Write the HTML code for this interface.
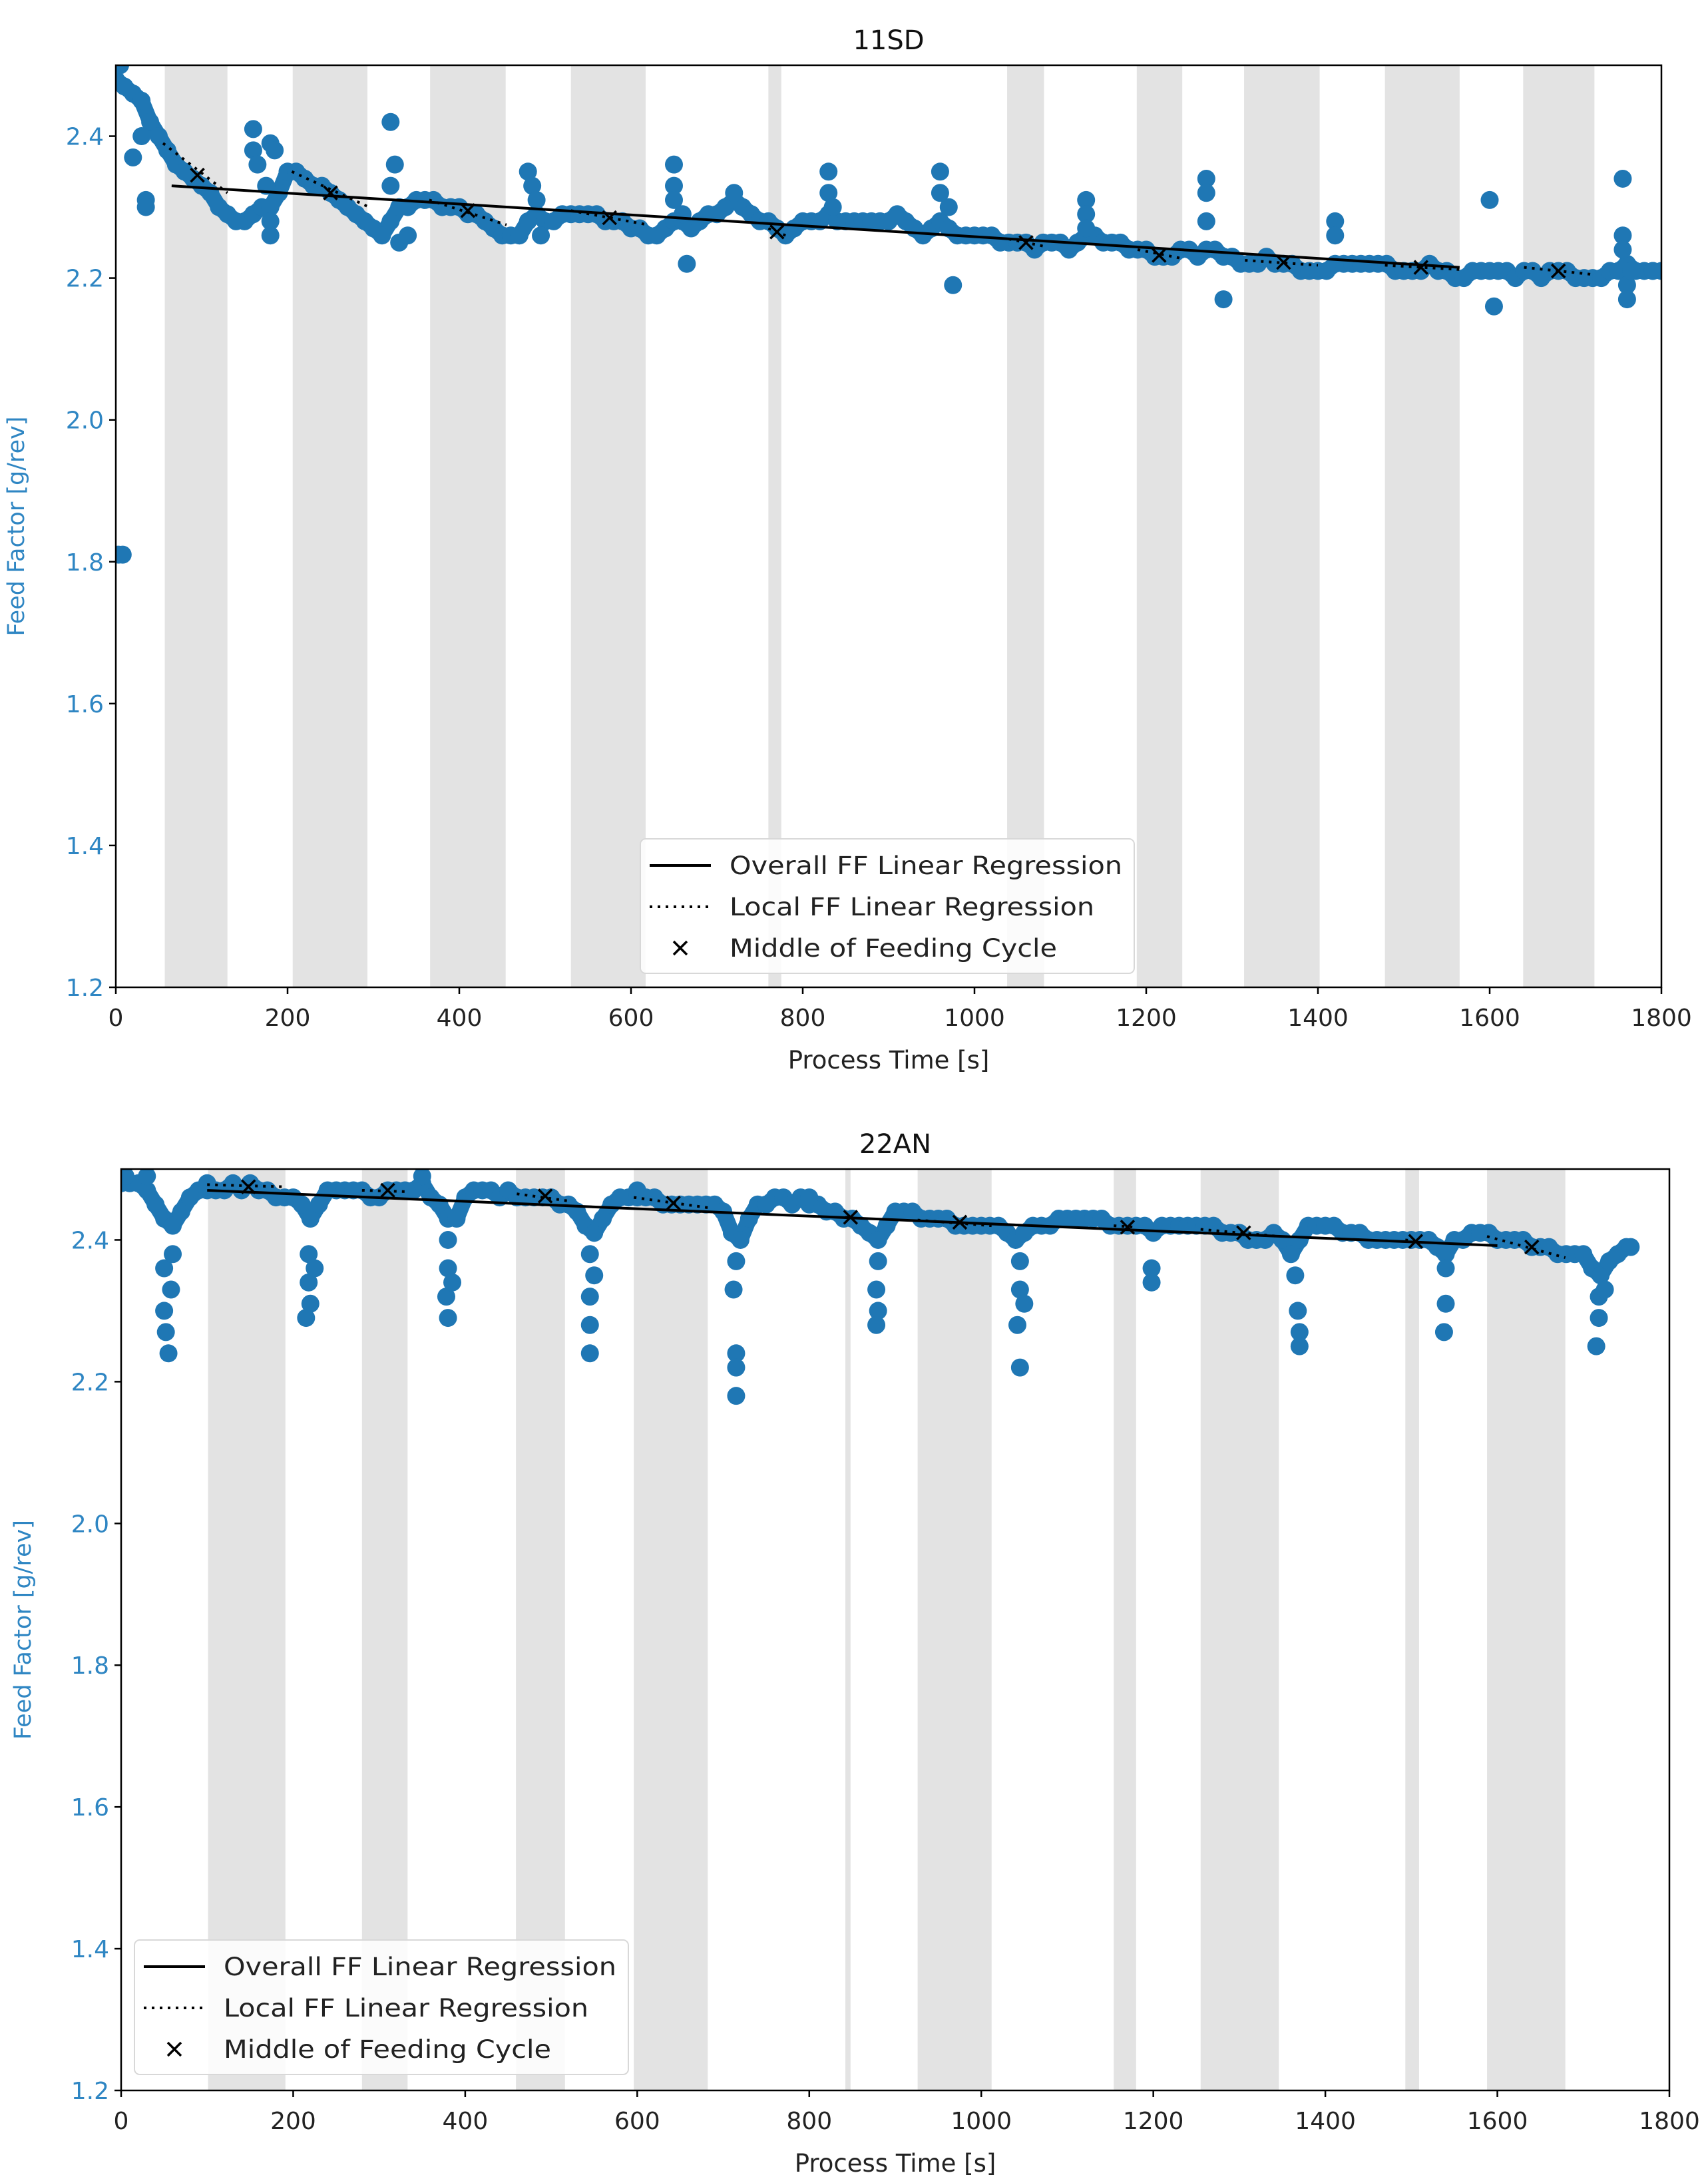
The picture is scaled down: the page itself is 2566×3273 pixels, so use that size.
<!DOCTYPE html>
<html><head><meta charset="utf-8"><style>
html,body{margin:0;padding:0;background:#fff;}
svg{display:block;font-family:"DejaVu Sans","Liberation Sans",sans-serif;}
</style></head><body>
<svg id="fig" width="2566" height="3273" viewBox="0 0 2566 3273" xmlns="http://www.w3.org/2000/svg"></svg>
<script>
// ---------- data: top chart (11SD) ----------
const topBase = [2.48,2.47,2.46,2.45,2.42,2.40,2.38,2.36,2.35,2.34,2.33,2.32,2.30,2.29,2.28,2.28,2.29,2.30,2.30,2.32,
2.35,2.35,2.34,2.33,2.33,2.32,2.31,2.30,2.29,2.28,2.27,2.26,2.28,2.30,2.30,2.31,2.31,2.31,2.30,2.30,
2.30,2.29,2.29,2.28,2.27,2.26,2.26,2.26,2.28,2.29,2.28,2.28,2.29,2.29,2.29,2.29,2.29,2.28,2.28,2.28,
2.27,2.27,2.26,2.26,2.27,2.28,2.28,2.27,2.28,2.29,2.29,2.30,2.31,2.30,2.29,2.28,2.28,2.27,2.26,2.27,
2.28,2.28,2.28,2.29,2.28,2.28,2.28,2.28,2.28,2.28,2.28,2.29,2.28,2.27,2.26,2.27,2.28,2.27,2.26,2.26,
2.26,2.26,2.26,2.25,2.25,2.25,2.25,2.24,2.25,2.25,2.25,2.24,2.25,2.26,2.26,2.25,2.25,2.25,2.24,2.24,
2.24,2.23,2.23,2.23,2.24,2.24,2.23,2.24,2.24,2.23,2.23,2.22,2.22,2.22,2.23,2.22,2.22,2.22,2.21,2.21,
2.21,2.21,2.22,2.22,2.22,2.22,2.22,2.22,2.22,2.21,2.21,2.21,2.21,2.22,2.21,2.21,2.20,2.20,2.21,2.21,
2.21,2.21,2.21,2.20,2.21,2.21,2.20,2.21,2.21,2.21,2.20,2.20,2.20,2.20,2.21,2.21,2.22,2.21,2.21,2.21,2.21];
const topExtraT = [3,8,5,20,35,35,30,160,160,165,180,185,180,180,175,320,325,320,330,340,480,485,490,495,650,650,650,665,660,720,830,830,835,960,960,970,975,1130,1130,1130,1270,1270,1270,1290,1420,1420,1600,1605,1755,1755,1755,1760,1760,1765,1790];
const topExtraV = [1.81,1.81,2.50,2.37,2.31,2.30,2.40,2.41,2.38,2.36,2.39,2.38,2.26,2.28,2.33,2.42,2.36,2.33,2.25,2.26,2.35,2.33,2.31,2.26,2.36,2.33,2.31,2.22,2.29,2.32,2.35,2.32,2.30,2.35,2.32,2.30,2.19,2.31,2.29,2.27,2.34,2.32,2.28,2.17,2.28,2.26,2.31,2.16,2.34,2.26,2.24,2.19,2.17,2.21,2.21];
const topShadeStart = [57,206,366,530,760,1038,1189,1314,1478,1639];
const topShadeEnd   = [130,293,454,617,775,1081,1242,1402,1565,1722];
const topOverall = [65,2.33,1565,2.215];
const topLocal = [[55,2.39,130,2.32],[205,2.35,295,2.30],[365,2.31,455,2.275],[530,2.295,620,2.275],[760,2.27,780,2.26],[1040,2.255,1080,2.245],[1190,2.24,1240,2.228],[1315,2.225,1400,2.218],[1478,2.218,1565,2.212],[1640,2.215,1720,2.205]];
const topMidT = [95,250,410,575,770,1060,1215,1360,1520,1680];
const topMidV = [2.345,2.32,2.295,2.285,2.265,2.25,2.232,2.222,2.215,2.21];

// ---------- data: bottom chart (22AN) ----------
const botBase = [2.48,2.48,2.48,2.47,2.45,2.43,2.42,2.44,2.46,2.47,2.47,2.47,2.47,2.48,2.47,2.48,2.47,2.47,2.46,2.46,
2.46,2.45,2.43,2.45,2.47,2.47,2.47,2.47,2.47,2.46,2.46,2.47,2.47,2.47,2.47,2.48,2.46,2.45,2.43,2.43,
2.46,2.47,2.47,2.47,2.46,2.47,2.46,2.46,2.46,2.46,2.46,2.45,2.45,2.44,2.42,2.41,2.43,2.45,2.46,2.46,
2.46,2.46,2.46,2.45,2.45,2.45,2.45,2.45,2.45,2.45,2.44,2.41,2.40,2.43,2.45,2.45,2.46,2.46,2.45,2.46,
2.45,2.45,2.44,2.44,2.43,2.43,2.42,2.41,2.40,2.42,2.44,2.44,2.44,2.43,2.43,2.43,2.43,2.42,2.42,2.42,
2.42,2.42,2.42,2.41,2.40,2.41,2.42,2.42,2.42,2.43,2.43,2.43,2.43,2.43,2.43,2.42,2.42,2.42,2.42,2.42,
2.41,2.42,2.42,2.42,2.42,2.42,2.42,2.42,2.41,2.41,2.41,2.40,2.40,2.40,2.41,2.40,2.38,2.40,2.42,2.42,
2.42,2.42,2.41,2.41,2.41,2.40,2.40,2.40,2.40,2.40,2.40,2.40,2.40,2.39,2.38,2.40,2.40,2.41,2.41,2.41,
2.40,2.40,2.40,2.40,2.39,2.39,2.39,2.38,2.38,2.38,2.38,2.36,2.35,2.37,2.38,2.39];
const botExtraT = [50,50,52,55,58,60,218,218,220,215,225,380,380,378,380,385,545,545,545,545,550,715,712,715,715,715,880,878,880,878,1045,1045,1042,1045,1050,1198,1198,1365,1368,1370,1370,1540,1540,1538,1718,1718,1715,1725,1755,5,30,350,100,600,800];
const botExtraV = [2.36,2.30,2.27,2.24,2.33,2.38,2.38,2.34,2.31,2.29,2.36,2.40,2.36,2.32,2.29,2.34,2.38,2.32,2.28,2.24,2.35,2.37,2.33,2.24,2.22,2.18,2.37,2.33,2.30,2.28,2.37,2.33,2.28,2.22,2.31,2.36,2.34,2.35,2.30,2.27,2.25,2.36,2.31,2.27,2.32,2.29,2.25,2.33,2.39,2.49,2.49,2.49,2.48,2.47,2.46];
const botShadeStart = [101,280,459,596,842,926,1154,1255,1493,1588];
const botShadeEnd   = [191,333,516,682,848,1012,1180,1346,1509,1679];
const botOverall = [100,2.47,1600,2.392];
const botLocal = [[100,2.478,190,2.475],[280,2.47,335,2.468],[460,2.465,520,2.455],[596,2.46,685,2.445],[842,2.432,850,2.432],[926,2.428,1012,2.42],[1154,2.42,1180,2.418],[1255,2.415,1346,2.405],[1493,2.4,1509,2.398],[1588,2.405,1679,2.375]];
const botMidT = [148,310,493,642,848,975,1170,1305,1505,1640];
const botMidV = [2.475,2.47,2.462,2.452,2.432,2.425,2.418,2.41,2.398,2.39];

const xTicks = [0,200,400,600,800,1000,1200,1400,1600,1800];
const yTicks = [1.2,1.4,1.6,1.8,2.0,2.2,2.4];

const NS = "http://www.w3.org/2000/svg";
const fig = document.getElementById('fig');
function mk(tag, attrs, parent){const e=document.createElementNS(NS,tag);for(const k in attrs)e.setAttribute(k,attrs[k]);(parent||fig).appendChild(e);return e;}

function chart(o){
  const g = mk('g',{});
  
  
  const sx = v => o.L + (v/1800)*(o.R-o.L);
  const sy = v => o.B - ((v-1.2)/1.3)*(o.B-o.T);
  const clipId = o.name+'-clip';
  const cp = mk('clipPath',{id:clipId},g); mk('rect',{x:o.L,y:o.T,width:o.R-o.L,height:o.B-o.T},cp);
  const plot = mk('g',{'clip-path':'url(#'+clipId+')'},g);
  for(let i=0;i<o.ss.length;i++){
    const r = mk('rect',{x:sx(o.ss[i]),y:o.T,width:sx(o.se[i])-sx(o.ss[i]),height:o.B-o.T,fill:'#e3e3e3'},plot);
    
    
  }
  const sg = mk('g',{fill:'#1f77b4'},plot);
  
  
  const pts = o.base.map((v,i)=>sx(i*10)+','+sy(v)).join(' ');
  const band = mk('polyline',{points:pts,fill:'none',stroke:'#1f77b4','stroke-width':24,'stroke-linejoin':'round','stroke-linecap':'round'},sg);
  
  
  for(let i=0;i<o.base.length;i++){
    const c = mk('circle',{cx:sx(i*10),cy:sy(o.base[i]),r:13.5},sg);
    
    
  }
  for(let i=0;i<o.et.length;i++){
    const c = mk('circle',{cx:sx(o.et[i]),cy:sy(o.ev[i]),r:13.5},sg);
    
    
  }
  const ov = mk('line',{x1:sx(o.ov[0]),y1:sy(o.ov[1]),x2:sx(o.ov[2]),y2:sy(o.ov[3]),stroke:'#000','stroke-width':4},plot);
  
  
  for(const s of o.loc){
    const l = mk('line',{x1:sx(s[0]),y1:sy(s[1]),x2:sx(s[2]),y2:sy(s[3]),stroke:'#000','stroke-width':4,'stroke-dasharray':'4 8'},plot);
    
    
  }
  for(let i=0;i<o.mt.length;i++){
    const x=sx(o.mt[i]), y=sy(o.mv[i]);
    const p = mk('path',{d:`M${x-10} ${y-10}L${x+10} ${y+10}M${x-10} ${y+10}L${x+10} ${y-10}`,stroke:'#000','stroke-width':3.5},plot);
    
    
  }
  mk('rect',{x:o.L,y:o.T,width:o.R-o.L,height:o.B-o.T,fill:'none',stroke:'#000','stroke-width':2.5},g);
  for(const t of xTicks){
    const x=sx(t);
    mk('line',{x1:x,y1:o.B,x2:x,y2:o.B+10,stroke:'#000','stroke-width':2.5},g);
    const tx = mk('text',{x:x,y:o.B+58,'text-anchor':'middle','font-size':36,fill:'#222'},g);
    tx.textContent=t;
    
    
  }
  for(const t of yTicks){
    const y=sy(t);
    mk('line',{x1:o.L-10,y1:y,x2:o.L,y2:y,stroke:'#000','stroke-width':2.5},g);
    const tx = mk('text',{x:o.L-18,y:y+13,'text-anchor':'end','font-size':36,fill:'#2f86c3'},g);
    tx.textContent=t.toFixed(1);
    
    
  }
  const xl = mk('text',{x:(o.L+o.R)/2,y:o.B+122,'text-anchor':'middle','font-size':37,fill:'#222'},g);
  xl.textContent='Process Time [s]';
  
  
  const yc=(o.T+o.B)/2;
  const yl = mk('text',{x:o.ylx,y:yc,'text-anchor':'middle','font-size':35,fill:'#2f86c3',transform:`rotate(-90 ${o.ylx} ${yc})`},g);
  yl.textContent='Feed Factor [g/rev]';
  
  
  const ti = mk('text',{x:(o.L+o.R)/2,y:o.T-24,'text-anchor':'middle','font-size':40,fill:'#111'},g);
  ti.textContent=o.title;
  
  
  const lg = mk('g',{},g);
  
  
  const lx=o.lx, ly=o.ly;
  mk('rect',{x:lx,y:ly,width:o.lw,height:202,rx:8,fill:'#fff','fill-opacity':0.85,stroke:'#d8d8d8','stroke-width':2},lg);
  const rows=[ly+40,ly+102,ly+164];
  mk('line',{x1:lx+14,y1:rows[0],x2:lx+106,y2:rows[0],stroke:'#000','stroke-width':4},lg);
  mk('line',{x1:lx+14,y1:rows[1],x2:lx+106,y2:rows[1],stroke:'#000','stroke-width':4,'stroke-dasharray':'4 8'},lg);
  const cx=lx+60, cy=rows[2];
  mk('path',{d:`M${cx-10} ${cy-10}L${cx+10} ${cy+10}M${cx-10} ${cy+10}L${cx+10} ${cy-10}`,stroke:'#000','stroke-width':3.5},lg);
  const labels=['Overall FF Linear Regression','Local FF Linear Regression','Middle of Feeding Cycle'];
  const lens=[590,548,492];
  for(let i=0;i<3;i++){
    const t = mk('text',{x:lx+134,y:rows[i]+13,'font-size':37,fill:'#222',textLength:lens[i],lengthAdjust:'spacingAndGlyphs'},lg);
    t.textContent=labels[i];
    
    
  }
}

chart({name:'chart-11sd',title:'11SD',L:174,R:2496,T:98,B:1483,ylx:36,
  base:topBase,et:topExtraT,ev:topExtraV,ss:topShadeStart,se:topShadeEnd,ov:topOverall,loc:topLocal,mt:topMidT,mv:topMidV,
  lx:962,ly:1260,lw:742});
chart({name:'chart-22an',title:'22AN',L:182,R:2508,T:1756,B:3140,ylx:46,
  base:botBase,et:botExtraT,ev:botExtraV,ss:botShadeStart,se:botShadeEnd,ov:botOverall,loc:botLocal,mt:botMidT,mv:botMidV,
  lx:202,ly:2914,lw:742});
</script>
</body></html>
